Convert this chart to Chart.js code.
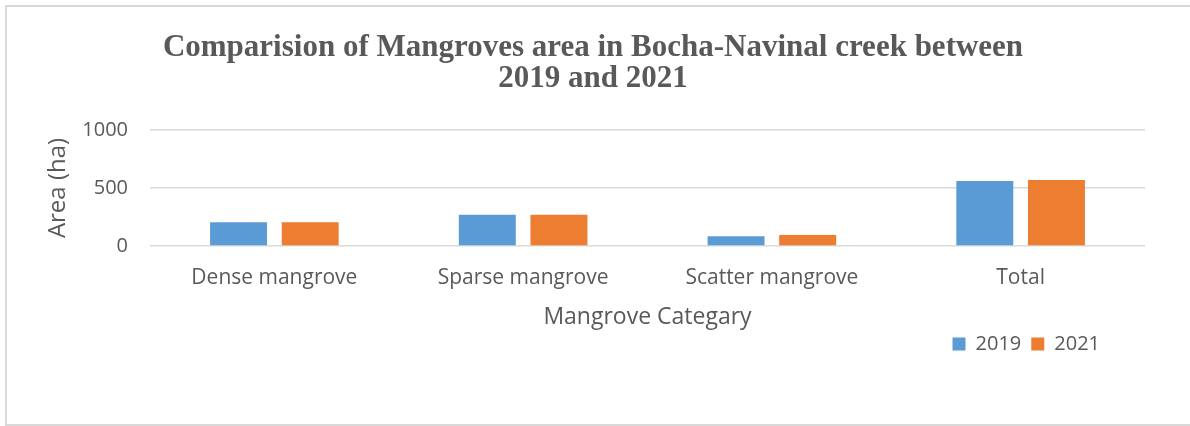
<!DOCTYPE html>
<html>
<head>
<meta charset="utf-8">
<script src="https://cdn.jsdelivr.net/npm/chart.js@4/dist/chart.umd.min.js"></script>
<style>
  html, body { margin: 0; padding: 0; background: #fff; overflow: hidden; }
  .frame {
    position: absolute; left: 5px; top: 5px; width: 1185px; height: 421px;
    border: 2px solid #d9d9d9; border-right: none; box-sizing: border-box;
  }
  .chart-wrap { position: absolute; left: 0; top: 0; width: 1190px; height: 426px; }
</style>
</head>
<body>
<div class="frame"></div>
<div class="chart-wrap"><canvas id="barChart"></canvas></div>
<script>
const categories = ['Dense mangrove', 'Sparse mangrove', 'Scatter mangrove', 'Total'];
const area2019 = [205, 270, 85, 560];
const area2021 = [205, 270, 95, 570];
const yTicks = [0, 500, 1000];

const textColor = '#595959';
const sansFont = "'Open Sans', sans-serif";

// move the legend box to the right spot under the x axis title
const legendSpot = {
  id: 'legendSpot',
  beforeDraw(chart) {
    const lg = chart.legend;
    if (!lg) return;
    const h = lg.bottom - lg.top;
    lg.right = 1110;
    lg.top = 324;
    lg.bottom = lg.top + h;
  }
};

const ctx = document.getElementById('barChart').getContext('2d');
new Chart(ctx, {
  type: 'bar',
  data: {
    labels: categories,
    datasets: [
      { label: '2019', data: area2019, backgroundColor: '#5B9BD5' },
      { label: '2021', data: area2021, backgroundColor: '#ED7D31' }
    ]
  },
  options: {
    responsive: true,
    maintainAspectRatio: false,
    animation: false,
    categoryPercentage: 0.576,
    barPercentage: 0.795,
    layout: { padding: { left: 41, right: 45, top: 0, bottom: 55 } },
    plugins: {
      title: {
        display: true,
        text: ['Comparision of Mangroves area in Bocha-Navinal creek between', '2019 and 2021'],
        color: textColor,
        font: { family: "'Liberation Serif', serif", size: 31, weight: 'bold', lineHeight: 1.0 },
        padding: { top: 32, bottom: 36 }
      },
      legend: {
        position: 'bottom',
        align: 'end',
        labels: {
          color: textColor,
          font: { family: sansFont, size: 20 },
          boxWidth: 13,
          boxHeight: 13,
          padding: 10
        }
      },
      tooltip: { enabled: false }
    },
    scales: {
      x: {
        grid: { display: false, drawTicks: false },
        border: { display: false },
        ticks: { color: textColor, font: { family: sansFont, size: 21 }, padding: 19, maxRotation: 0 },
        title: {
          display: true,
          text: 'Mangrove Categary',
          color: textColor,
          font: { family: sansFont, size: 23 },
          padding: { top: 0, bottom: 0 }
        },
        afterFit(scale) { scale.height = 85; }
      },
      y: {
        min: 0,
        max: 1000,
        afterBuildTicks(scale) { scale.ticks = yTicks.map(v => ({ value: v })); },
        grid: { color: '#d9d9d9', lineWidth: 1.5, drawTicks: false },
        border: { display: false },
        ticks: {
          color: textColor,
          font: { family: sansFont, size: 20 },
          padding: 22,
          callback: (v) => String(v)
        },
        title: {
          display: true,
          text: 'Area (ha)',
          color: textColor,
          font: { family: sansFont, size: 24 },
          padding: { top: 3, bottom: 0 }
        },
        afterFit(scale) { scale.width = 109; }
      }
    }
  },
  plugins: [legendSpot]
});
</script>
</body>
</html>
